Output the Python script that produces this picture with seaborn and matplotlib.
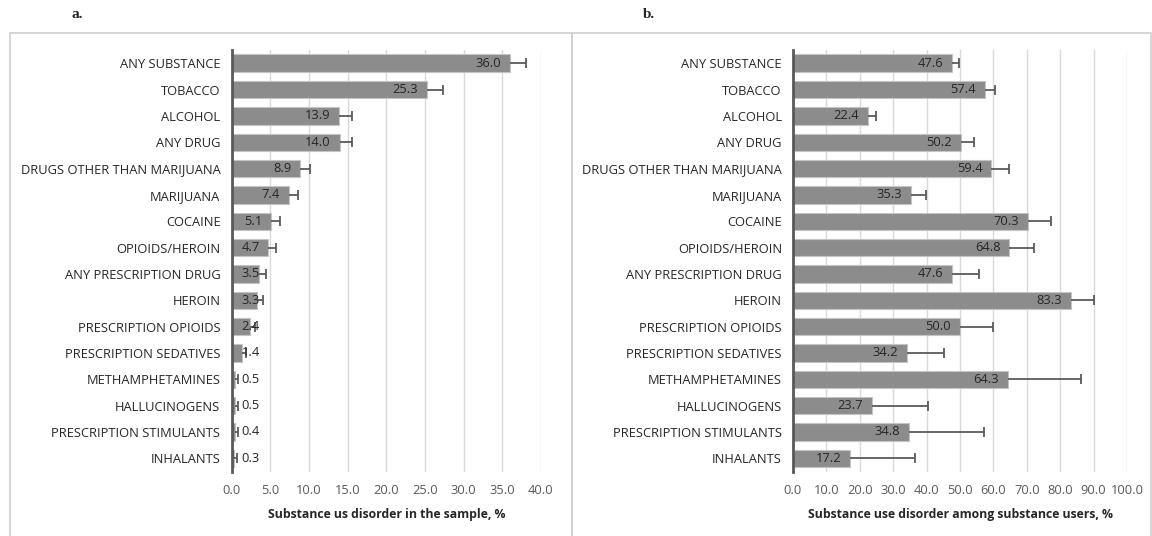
import numpy as np
import pandas as pd
import matplotlib
matplotlib.use("Agg")
import matplotlib.pyplot as plt
import seaborn as sns
from matplotlib.patches import Rectangle
from matplotlib.transforms import offset_copy

categories = ["ANY SUBSTANCE", "TOBACCO", "ALCOHOL", "ANY DRUG",
              "DRUGS OTHER THAN MARIJUANA", "MARIJUANA", "COCAINE",
              "OPIOIDS/HEROIN", "ANY PRESCRIPTION DRUG", "HEROIN",
              "PRESCRIPTION OPIOIDS", "PRESCRIPTION SEDATIVES",
              "METHAMPHETAMINES", "HALLUCINOGENS", "PRESCRIPTION STIMULANTS",
              "INHALANTS"]
sample_pct = [36.0, 25.3, 13.9, 14.0, 8.9, 7.4, 5.1, 4.7, 3.5, 3.3, 2.4, 1.4,
              0.5, 0.5, 0.4, 0.3]
sample_upper = [38.1, 27.3, 15.6, 15.6, 10.2, 8.6, 6.3, 5.7, 4.4, 4.1, 3.0, 1.9,
                0.9, 0.9, 0.8, 0.7]
users_pct = [47.6, 57.4, 22.4, 50.2, 59.4, 35.3, 70.3, 64.8, 47.6, 83.3, 50.0,
             34.2, 64.3, 23.7, 34.8, 17.2]
users_upper = [49.8, 60.5, 24.8, 54.2, 64.7, 39.9, 77.3, 72.1, 55.6, 90.0, 59.9,
               45.1, 86.3, 40.3, 57.3, 36.5]
xticks_a = [0, 5, 10, 15, 20, 25, 30, 35, 40]
xticks_b = [0, 10, 20, 30, 40, 50, 60, 70, 80, 90, 100]
xlabel_a = "Substance us disorder in the sample, %"
xlabel_b = "Substance use disorder among substance users, %"

sns.set_theme(style="white")
plt.rcParams['font.family'] = ['Open Sans', 'DejaVu Sans']

W, H = 1152, 536
fig = plt.figure(figsize=(W / 100, H / 100), dpi=100)

# panel frames
frame_kw = dict(transform=fig.transFigure, fill=False, edgecolor="#d0d0d0", lw=1.2)
fig.patches.append(Rectangle((10 / W, -0.01), (572 - 10) / W, 1 - 33 / H + 0.01, **frame_kw))
fig.patches.append(Rectangle((572 / W, -0.01), (1151 - 572) / W, 1 - 33 / H + 0.01, **frame_kw))

fig.text(72 / W, 1 - 14 / H, "a.", family="Liberation Serif", weight="bold",
         fontsize=11, va="center", ha="left")
fig.text(643 / W, 1 - 14 / H, "b.", family="Liberation Serif", weight="bold",
         fontsize=11, va="center", ha="left")

bottom = 1 - 471.5 / H
top = 1 - 50 / H
ax_a = fig.add_axes([231.5 / W, bottom, (541 - 231.5) / W, top - bottom])
ax_b = fig.add_axes([793 / W, bottom, (1127 - 793) / W, top - bottom])

FS = 9.3


def draw(ax, vals, upper, ticks, xlabel):
    df = pd.DataFrame({"cat": categories, "val": vals})
    sns.barplot(data=df, y="cat", x="val", orient="h", ax=ax, color="#8c8c8c",
                saturation=1, width=0.66, edgecolor="#c4c4c4", linewidth=0.8,
                errorbar=None)
    ypos = np.arange(len(categories))
    vals_arr = np.asarray(vals)
    up_arr = np.asarray(upper)
    ax.errorbar(vals_arr, ypos, xerr=[np.zeros_like(vals_arr), up_arr - vals_arr],
                fmt="none", ecolor="#5a5a5a", elinewidth=1.3, capsize=0, zorder=4)
    ax.plot(up_arr, ypos, ls="none", marker="|", ms=6.5, mew=1.3,
            color="#5a5a5a", zorder=4)
    ax.set_xlim(ticks[0], ticks[-1])
    ax.set_ylim(len(categories) - 0.5, -0.5)
    ax.set_xticks(ticks)
    ax.set_xticklabels([f"{t:.1f}" for t in ticks], color="#595959", fontsize=FS)
    ax.tick_params(axis="y", labelsize=FS, labelcolor="#262626", length=0, pad=8)
    ax.tick_params(axis="x", length=0, pad=9)
    ax.set_ylabel("")
    ax.set_xlabel(xlabel, fontsize=8.8, weight="bold", color="#262626", labelpad=8)
    ax.xaxis.grid(True, color="#d9d9d9", lw=1)
    ax.set_axisbelow(True)
    for s in ["top", "right", "bottom"]:
        ax.spines[s].set_visible(False)
    ax.spines["left"].set_color("#595959")
    ax.spines["left"].set_linewidth(2)
    ax.spines["left"].set_zorder(5)
    texts = []
    for v, y in zip(vals, ypos):
        tr = offset_copy(ax.transData, fig=fig, x=-9, y=0, units="dots")
        t = ax.text(v, y, f"{v:.1f}", ha="right", va="center", fontsize=FS,
                    color="#262626", transform=tr, zorder=6)
        texts.append((t, y))
    return texts


texts_a = draw(ax_a, sample_pct, sample_upper, xticks_a, xlabel_a)
texts_b = draw(ax_b, users_pct, users_upper, xticks_b, xlabel_b)

fig.canvas.draw()
renderer = fig.canvas.get_renderer()
for ax, texts in [(ax_a, texts_a), (ax_b, texts_b)]:
    x0 = ax.get_window_extent().x0
    for t, y in texts:
        ext = t.get_window_extent(renderer)
        if ext.x0 < x0 + 10:
            t.set_transform(offset_copy(ax.transData, fig=fig, x=10, y=0, units="dots"))
            t.set_position((0, y))
            t.set_ha("left")

fig.savefig("out.png", dpi=100, facecolor="white")
